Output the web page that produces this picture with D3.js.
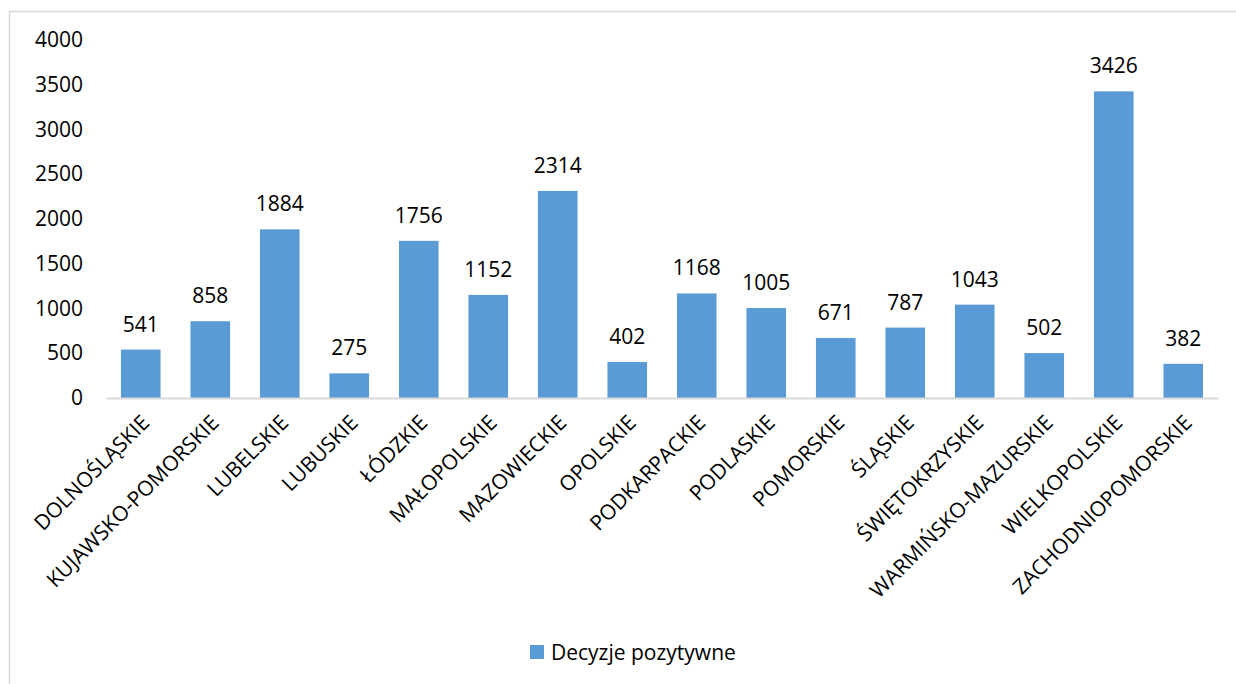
<!DOCTYPE html>
<html>
<head>
<meta charset="utf-8">
<script src="https://cdn.jsdelivr.net/npm/d3@7"></script>
<style>
  html, body { margin: 0; padding: 0; background: #fff; }
  svg { display: block; }
  text { font-family: "Open Sans", "Noto Sans", sans-serif; fill: #000; }
</style>
</head>
<body>
<svg id="chart" width="1236" height="684"></svg>
<script>
const categories = ["DOLNOŚLĄSKIE","KUJAWSKO-POMORSKIE","LUBELSKIE","LUBUSKIE","ŁÓDZKIE","MAŁOPOLSKIE","MAZOWIECKIE","OPOLSKIE","PODKARPACKIE","PODLASKIE","POMORSKIE","ŚLĄSKIE","ŚWIĘTOKRZYSKIE","WARMIŃSKO-MAZURSKIE","WIELKOPOLSKIE","ZACHODNIOPOMORSKIE"];
const values = [541,858,1884,275,1756,1152,2314,402,1168,1005,671,787,1043,502,3426,382];
const yTicks = [0,500,1000,1500,2000,2500,3000,3500,4000];
const seriesName = "Decyzje pozytywne";

const svg = d3.select("#chart");
const W = 1236, H = 684;

// outer border
svg.append("rect").attr("x", 9.5).attr("y", 11.5).attr("width", W).attr("height", H)
  .attr("fill", "none").attr("stroke", "#d9d9d9").attr("stroke-width", 1.5);

const x = d3.scaleBand().domain(categories).range([106, 1218]).paddingInner(0.43).paddingOuter(0.215);
const y = d3.scaleLinear().domain([0, 4000]).range([398, 40]);

const fs = 21;

// y axis labels
const yAxis = d3.axisLeft(y).tickValues(yTicks).tickSize(0).tickPadding(0).tickFormat(d3.format("d"));
const gy = svg.append("g").attr("transform", "translate(83,0)").call(yAxis);
gy.select(".domain").remove();
gy.selectAll("text").style("font-size", fs + "px").style("font-family", "'Open Sans', sans-serif").attr("fill", "#000");

// bars
svg.append("g").selectAll("rect").data(values).join("rect")
  .attr("x", (d, i) => x(categories[i]))
  .attr("y", d => y(d))
  .attr("width", x.bandwidth())
  .attr("height", d => y(0) - y(d))
  .attr("fill", "#5b9bd5");

// x axis
const xAxis = d3.axisBottom(x).tickSize(0).tickPadding(0);
const gx = svg.append("g").attr("transform", `translate(0,${y(0)})`).call(xAxis);
gx.select(".domain").attr("stroke", "#d9d9d9").attr("stroke-width", 2);
gx.selectAll("text")
  .style("font-size", fs + "px").style("font-family", "'Open Sans', sans-serif").attr("fill", "#000")
  .attr("text-anchor", "end")
  .attr("dy", null).attr("y", 0)
  .attr("transform", "translate(6,22) rotate(-45)")
  .attr("dominant-baseline", "middle");

// value labels
svg.append("g").selectAll("text").data(values).join("text")
  .attr("x", (d, i) => x(categories[i]) + x.bandwidth() / 2)
  .attr("y", d => y(d) - 18)
  .attr("text-anchor", "middle")
  .style("font-size", fs + "px")
  .text(d => d);

// legend
const lg = svg.append("g").attr("transform", "translate(530,645)");
lg.append("rect").attr("width", 14).attr("height", 14).attr("fill", "#5b9bd5");
lg.append("text").attr("x", 21).attr("y", 7).attr("dominant-baseline", "central")
  .style("font-size", fs + "px").text(seriesName);
</script>
</body>
</html>
